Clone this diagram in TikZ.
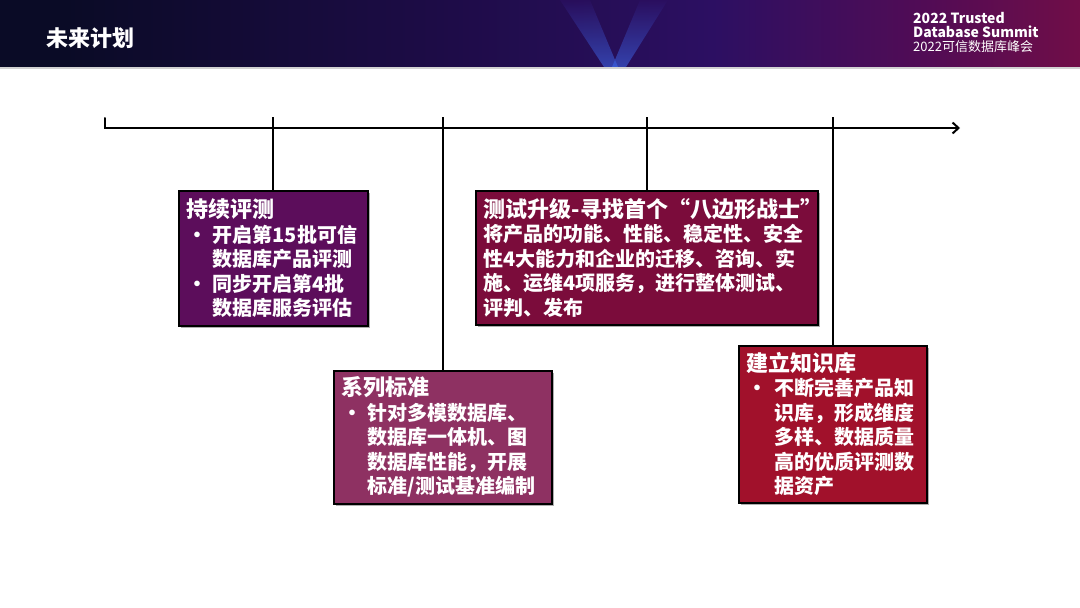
\documentclass[tikz,border=0pt]{standalone}
\usepackage{fontspec}
\setmainfont{Noto Sans CJK SC}
\usetikzlibrary{arrows.meta,shadows}
\definecolor{hdA}{HTML}{0A0B26}
\definecolor{hdB}{HTML}{1E0C48}
\definecolor{hdC}{HTML}{2C0F62}
\definecolor{hdD}{HTML}{520C55}
\definecolor{hdE}{HTML}{850E3E}
\definecolor{hdF}{HTML}{3C0A30}
\definecolor{beam}{HTML}{3F6BF0}
\definecolor{boxA}{HTML}{5C0D5B}
\definecolor{boxB}{HTML}{8E3162}
\definecolor{boxC}{HTML}{7B0C3B}
\definecolor{boxD}{HTML}{A1112B}
\pgfdeclarehorizontalshading{hdr}{100bp}{color(0bp)=(hdA); color(28bp)=(hdA); color(46bp)=(hdB); color(58bp)=(hdC); color(68bp)=(hdD); color(80bp)=(hdE); color(94bp)=(hdE); color(100bp)=(hdF)}
\newlength{\bulsep}\setlength{\bulsep}{26pt}
\newcommand{\bul}{\par\noindent\hangindent=\bulsep\hangafter=1\makebox[\bulsep][l]{\hspace{1pt}•}}
\newcommand{\titl}[1]{{\fontsize{22}{24.5}\selectfont\mbox{#1}\par}}
\begin{document}
\begin{tikzpicture}[x=1pt,y=-1pt,
  plan/.style={draw=black, line width=1.5pt, text=white, align=left, anchor=north west,
    font=\bfseries\fontsize{20}{24.5}\selectfont, inner xsep=8pt, inner ysep=0pt,
    drop shadow={shadow xshift=2.5pt, shadow yshift=-2.5pt, fill=black!45, opacity=.7}},
  axis/.style={line width=2pt, line cap=round}]
\useasboundingbox (0,0) rectangle (1080,608);
\fill[white] (0,0) rectangle (1080,608);
\fill[shading=hdr] (0,0) rectangle (1080,67);
\shade[top color=hdC, bottom color=beam, opacity=.55] (560,0) -- (590,0) -- (618,67) -- (604,67) -- cycle;
\shade[top color=hdC, bottom color=beam, opacity=.55] (640,0) -- (668,0) -- (626,67) -- (612,67) -- cycle;
\fill[gray!35] (0,67) rectangle (1080,69);

\node[text=white, font=\bfseries\fontsize{22}{26}\selectfont, anchor=west] (title) at (43,38) {未来计划};
\node[text=white, font=\bfseries\fontsize{14}{14}\selectfont, anchor=west, inner sep=0pt] (logo1) at (913,18) {2022 Trusted};
\node[text=white, font=\bfseries\fontsize{14}{14}\selectfont, anchor=west, inner sep=0pt] (logo2) at (913,32) {Database Summit};
\node[text=white, font=\fontsize{13}{13}\selectfont, anchor=west, inner sep=0pt] (logo3) at (913,47) {2022可信数据库峰会};

\node[plan, fill=boxA, text width=173pt, minimum height=135pt] (b1) at (178,190) {%
\titl{持续评测}
\bul 开启第15批可信\newline 数据库产品评测
\bul 同步开启第4批\newline 数据库服务评估\par};

\node[plan, fill=boxB, text width=202pt, minimum height=133pt] (b2) at (333,370) {%
\titl{系列标准}
\bul 针对多模数据库、\newline 数据库一体机、图\newline 数据库性能，开展\newline 标准/测试基准编制\par};

\node[plan, fill=boxC, text width=326pt, minimum height=134pt] (b3) at (475,190) {%
\titl{测试升级-寻找首个“八边形战士”}
将产品的功能、性能、稳定性、安全\\
性4大能力和企业的迁移、咨询、实\\
施、运维4项服务，进行整体测试、\\
评判、发布};

\setlength{\bulsep}{28pt}
\node[plan, fill=boxD, text width=172pt, minimum height=157pt] (b4) at (738,345) {%
\titl{建立知识库}
\bul 不断完善产品知\newline 识库，形成维度\newline 多样、数据质量\newline 高的优质评测数\newline 据资产\par};

\coordinate (s) at (105,118);
\coordinate (e) at (960,128);
\draw[axis, -{Straight Barb[length=6pt,width=11pt]}] (s) |- (e);
\foreach \b in {b1,b2,b3,b4}
  \draw[line width=2pt] (\b.north |- 0,117) -- (\b.north);
\end{tikzpicture}
\end{document}
